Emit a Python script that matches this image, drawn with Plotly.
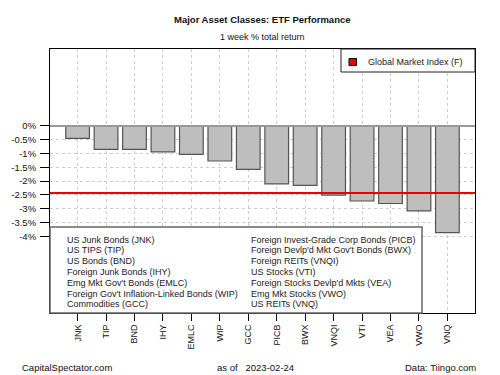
import plotly.graph_objects as go

tickers = ["JNK", "TIP", "BND", "IHY", "EMLC", "WIP", "GCC", "PICB", "BWX", "VNQI", "VTI", "VEA", "VWO", "VNQ"]
returns = [-0.45, -0.85, -0.85, -0.94, -1.03, -1.27, -1.57, -2.10, -2.15, -2.51, -2.72, -2.81, -3.08, -3.87]
global_index = -2.43
legend_left = ["US Junk Bonds (JNK)", "US TIPS (TIP)", "US Bonds (BND)", "Foreign Junk Bonds (IHY)",
               "Emg Mkt Gov't Bonds (EMLC)", "Foreign Gov't Inflation-Linked Bonds (WIP)", "Commodities (GCC)"]
legend_right = ["Foreign Invest-Grade Corp Bonds (PICB)", "Foreign Devlp'd Mkt Gov't Bonds (BWX)",
                "Foreign REITs (VNQI)", "US Stocks (VTI)", "Foreign Stocks Devlp'd Mkts (VEA)",
                "Emg Mkt Stocks (VWO)", "US REITs (VNQ)"]
y_ticks = [0, -0.5, -1, -1.5, -2, -2.5, -3, -3.5, -4]
y_labels = ["0%", "-0.5%", "-1%", "-1.5%", "-2%", "-2.5%", "-3%", "-3.5%", "-4%"]

FONT = "Liberation Sans, Arial, sans-serif"
L, R, T, B = 50, 475, 49, 313
W, H = R - L, B - T

def px(x):
    return (x - L) / W

def py(y):
    return (B - y) / H

x = list(range(len(tickers)))
fig = go.Figure()
fig.add_trace(go.Bar(x=x, y=returns, width=0.833,
                     marker=dict(color="#bebebe", line=dict(color="#555555", width=1.2)),
                     showlegend=False, hoverinfo="skip"))

shapes = []
# zero line
shapes.append(dict(type="line", xref="paper", yref="y", x0=0, x1=1, y0=0, y1=0,
                   line=dict(color="#999999", width=2), layer="above"))
# global market index line
shapes.append(dict(type="line", xref="paper", yref="y", x0=0, x1=1, y0=global_index, y1=global_index,
                   line=dict(color="#ee0000", width=2), layer="above"))
# bottom legend box
shapes.append(dict(type="rect", xref="paper", yref="paper", x0=0, x1=px(422), y0=0, y1=py(227),
                   fillcolor="white", line=dict(color="#666666", width=1.5), layer="above"))
# top legend box
shapes.append(dict(type="rect", xref="paper", yref="paper", x0=px(341), x1=1, y0=py(72), y1=1,
                   fillcolor="white", line=dict(color="#222222", width=1), layer="above"))
shapes.append(dict(type="rect", xref="paper", yref="paper", x0=px(349), x1=px(356.5), y0=py(65.5), y1=py(58.5),
                   fillcolor="#ee0000", line=dict(color="black", width=1), layer="above"))

ann = []
ann.append(dict(text="Global Market Index (F)", x=px(366), y=py(62), xref="paper", yref="paper",
                xanchor="left", yanchor="middle", showarrow=False, font=dict(size=9, color="#222222")))
for i, t in enumerate(legend_left):
    ann.append(dict(text=t, x=px(65), y=py(239.5 + 10.8 * i), xref="paper", yref="paper",
                    xanchor="left", yanchor="middle", showarrow=False, font=dict(size=9, color="#222222")))
for i, t in enumerate(legend_right):
    ann.append(dict(text=t, x=px(249), y=py(239.5 + 10.8 * i), xref="paper", yref="paper",
                    xanchor="left", yanchor="middle", showarrow=False, font=dict(size=9, color="#222222")))
ann.append(dict(text="<b>Major Asset Classes: ETF Performance</b>", x=0.5, y=py(20), xref="paper", yref="paper",
                xanchor="center", yanchor="middle", showarrow=False, font=dict(size=9.5, color="#111111")))
ann.append(dict(text="1 week % total return", x=0.5, y=py(37), xref="paper", yref="paper",
                xanchor="center", yanchor="middle", showarrow=False, font=dict(size=9, color="#111111")))
ann.append(dict(text="CapitalSpectator.com", x=px(20), y=py(367), xref="paper", yref="paper",
                xanchor="left", yanchor="middle", showarrow=False, font=dict(size=9.5, color="#111111")))
ann.append(dict(text="as of   2023-02-24", x=px(215), y=py(367), xref="paper", yref="paper",
                xanchor="left", yanchor="middle", showarrow=False, font=dict(size=9.5, color="#111111")))
ann.append(dict(text="Data: Tiingo.com", x=px(478), y=py(367), xref="paper", yref="paper",
                xanchor="right", yanchor="middle", showarrow=False, font=dict(size=9.5, color="#111111")))

fig.update_layout(
    width=500, height=375,
    margin=dict(l=L, r=500 - R, t=T, b=375 - B),
    paper_bgcolor="white", plot_bgcolor="white",
    font=dict(family=FONT, size=9, color="#111111"),
    shapes=shapes, annotations=ann, showlegend=False,
    xaxis=dict(range=[-0.97, 13.97], tickvals=x, ticktext=tickers, tickangle=-90,
               showgrid=True, gridcolor="#cccccc", griddash="dot", gridwidth=1,
               ticks="outside", ticklen=7, tickcolor="black",
               showline=True, linecolor="black", linewidth=1, mirror=True,
               zeroline=False, fixedrange=True, tickfont=dict(size=9)),
    yaxis=dict(range=[-6.78, 2.79], tickvals=y_ticks, ticktext=y_labels,
               showgrid=True, gridcolor="#cccccc", griddash="dot", gridwidth=1,
               ticks="outside", ticklen=9, tickcolor="black", ticklabelstandoff=2,
               showline=True, linecolor="black", linewidth=1, mirror=True,
               zeroline=False, fixedrange=True, tickfont=dict(size=9.5)),
)
fig.write_html("out.html", config={"displayModeBar": False},
               post_script="document.body.style.margin='0';document.body.style.overflow='hidden';")
